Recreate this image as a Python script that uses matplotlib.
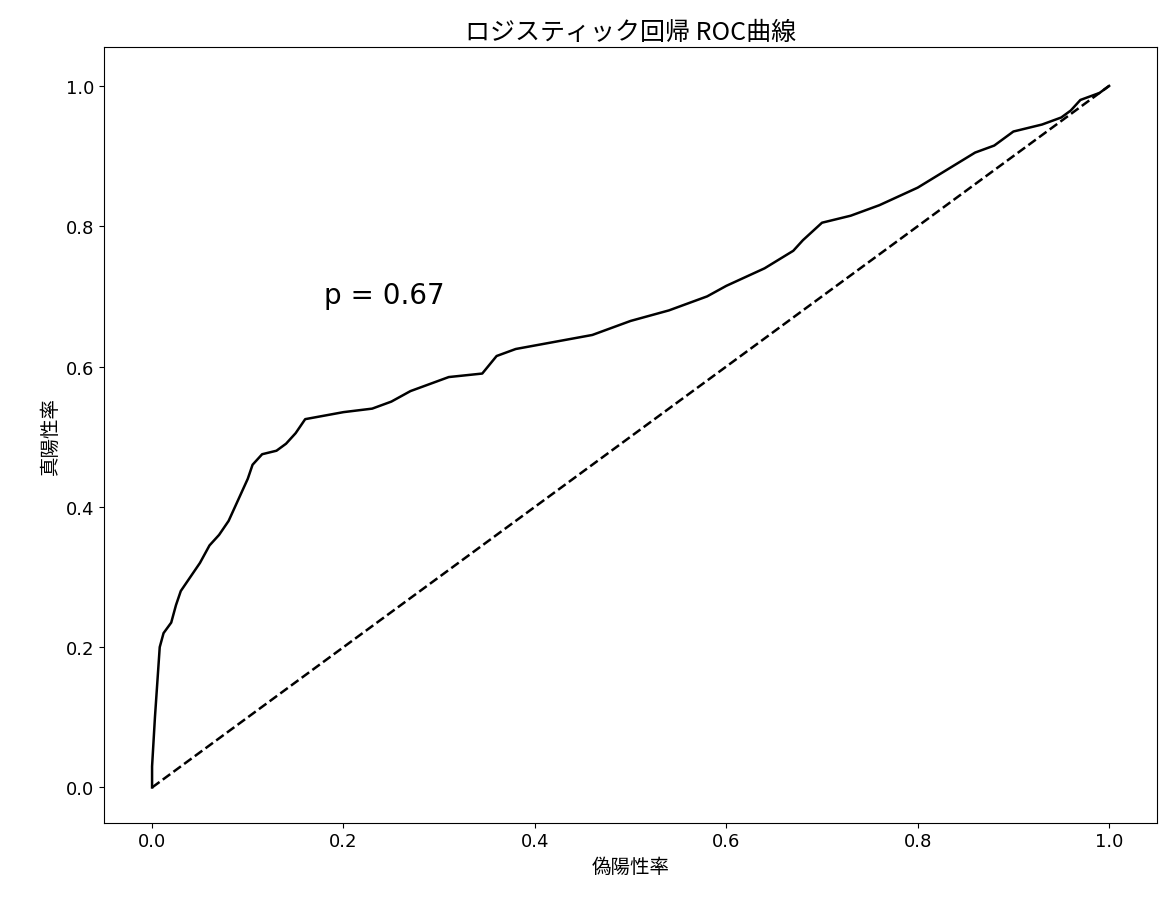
import matplotlib.pyplot as plt

plt.rcParams['font.family'] = ['Noto Sans CJK JP', 'DejaVu Sans']

fpr = [0, 0, 0.003, 0.005, 0.008, 0.012, 0.02, 0.025, 0.03, 0.04, 0.05, 0.06, 0.07,
       0.08, 0.09, 0.1, 0.105, 0.115, 0.13, 0.14, 0.15, 0.16, 0.18, 0.2, 0.23, 0.25,
       0.27, 0.29, 0.31, 0.345, 0.36, 0.38, 0.42, 0.46, 0.5, 0.54, 0.58, 0.6, 0.64,
       0.67, 0.68, 0.7, 0.73, 0.76, 0.8, 0.83, 0.86, 0.88, 0.9, 0.93, 0.95, 0.96, 0.97, 0.99, 1.0]
tpr = [0, 0.03, 0.1, 0.14, 0.2, 0.22, 0.235, 0.26, 0.28, 0.3, 0.32, 0.345, 0.36,
       0.38, 0.41, 0.44, 0.46, 0.475, 0.48, 0.49, 0.505, 0.525, 0.53, 0.535, 0.54, 0.55,
       0.565, 0.575, 0.585, 0.59, 0.615, 0.625, 0.635, 0.645, 0.665, 0.68, 0.7, 0.715, 0.74,
       0.765, 0.78, 0.805, 0.815, 0.83, 0.855, 0.88, 0.905, 0.915, 0.935, 0.945, 0.955, 0.965, 0.98, 0.99, 1.0]
auc_text = 'p = 0.67'

fig, ax = plt.subplots(figsize=(11.71, 9.12), dpi=100)
fig.subplots_adjust(left=0.089, right=0.988, top=0.947, bottom=0.097)

ax.plot(fpr, tpr, color='black', lw=1.8)
ax.plot([0, 1], [0, 1], color='black', ls='--', lw=1.8)
ax.text(0.18, 0.69, auc_text, fontsize=20, family='DejaVu Sans')

ax.set_title('ロジスティック回帰 ROC曲線', fontsize=18)
ax.set_xlabel('偽陽性率', fontsize=14)
ax.set_ylabel('真陽性率', fontsize=14)
ax.tick_params(labelsize=13)
ax.set_xticks([0, 0.2, 0.4, 0.6, 0.8, 1.0])
ax.set_yticks([0, 0.2, 0.4, 0.6, 0.8, 1.0])
ax.set_ylim(-0.05, 1.055)
for lab in ax.get_xticklabels() + ax.get_yticklabels():
    lab.set_family('DejaVu Sans')

fig.savefig('out.png')
